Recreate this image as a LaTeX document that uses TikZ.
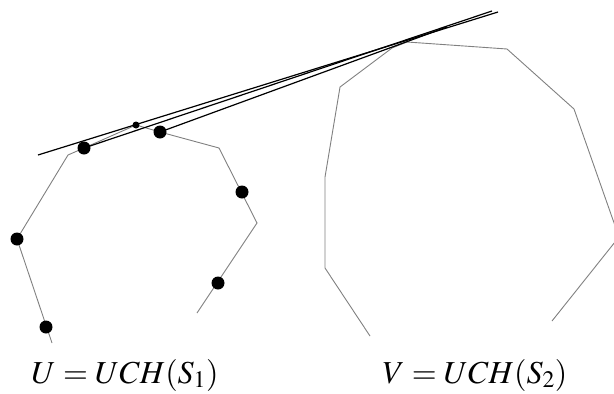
\documentclass[tikz,border=0pt]{standalone}
\usepackage{mathptmx}
\begin{document}
\begin{tikzpicture}[x=1pt,y=-1pt,
  hull/.style={draw={rgb,255:red,128;green,128;blue,128}, line width=0.9pt, line join=miter},
  tang/.style={draw=black, line width=1.2pt},
  bigdot/.style={circle, fill=black, inner sep=0pt, minimum size=13pt},
  smalldot/.style={circle, fill=black, inner sep=0pt, minimum size=7pt},
  lab/.style={anchor=base, inner sep=0pt, font=\fontsize{32}{38}\selectfont}]
\useasboundingbox (0,0) rectangle (614,394);
\clip (0,0) rectangle (614,394);
% left hull vertices
\coordinate (u0) at (52,343);
\coordinate (u1) at (17,239);
\coordinate (u2) at (68,155);
\coordinate (u3) at (84,148);
\coordinate (u4) at (136,125);
\coordinate (u5) at (160,132);
\coordinate (u6) at (219,148);
\coordinate (u7) at (257,223);
\coordinate (u8) at (197,313);
\draw[hull] (u0) -- (u1) -- (u2) -- (u3) -- (u4) -- (u5) -- (u6) -- (u7) -- (u8);
% right hull vertices
\coordinate (v0) at (370,336);
\coordinate (v1) at (325,268);
\coordinate (v2) at (325,177);
\coordinate (v3) at (340,87);
\coordinate (v4) at (392,48);
\coordinate (v5) at (407,42);
\coordinate (v6) at (507,49);
\coordinate (v7) at (574,109);
\coordinate (v8) at (619,237);
\coordinate (v9) at (552,321);
\draw[hull] (v0) -- (v1) -- (v2) -- (v3) -- (v4) -- (v5) -- (v6) -- (v7) -- (v8) -- (v9);
% tangent lines
\coordinate (t1a) at (38,155);
\coordinate (t1b) at (498,12);
\coordinate (t2b) at (492,11);
\coordinate (t3b) at (447,27);
\draw[tang] (t1a) -- (t1b);
\draw[tang] (u3) -- (t2b);
\draw[tang] (u5) -- (t3b);
% points
\node[smalldot] (p0) at (u4) {};
\node[bigdot] (p1) at (u3) {};
\node[bigdot] (p2) at (u5) {};
\node[bigdot] (p3) at (242,192) {};
\node[bigdot] (p4) at (218,283) {};
\node[bigdot] (p5) at (17,239) {};
\node[bigdot] (p6) at (46,327) {};
% labels
\node[lab] (lu) at (125,383) {$U=UCH(S_1)$};
\node[lab] (lv) at (475,383) {$V=UCH(S_2)$};
\end{tikzpicture}
\end{document}
